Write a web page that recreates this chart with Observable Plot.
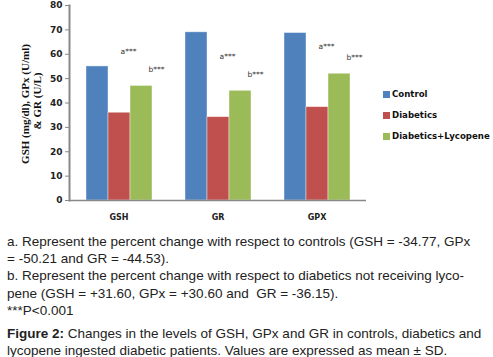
<!DOCTYPE html>
<html>
<head>
<meta charset="utf-8">
<script src="https://cdn.jsdelivr.net/npm/d3@7"></script>
<script src="https://cdn.jsdelivr.net/npm/@observablehq/plot@0.6"></script>
<style>
  html, body { margin: 0; padding: 0; background: #fff; }
  #wrap { position: relative; width: 493px; height: 357px; overflow: hidden; }
  #legend { position: absolute; left: 383px; top: 88px; font-family: "DejaVu Sans", Verdana, sans-serif; font-weight: bold; font-size: 8.6px; color: #111; }
  #legend .row { display: flex; align-items: center; height: 12px; margin-bottom: 9px; }
  #legend .sw { width: 7px; height: 7px; margin-right: 2px; }
  #notes { position: absolute; left: 7px; top: 233px; font-family: "Liberation Sans", Arial, sans-serif; font-size: 13.5px; line-height: 17.2px; color: #222; white-space: nowrap; }
  #notes .gap { height: 6px; }
</style>
</head>
<body>
<div id="wrap">
  <div id="chart"></div>
  <div id="legend"></div>
  <div id="notes">
    a. Represent the percent change with respect to controls (GSH = -34.77, GPx<br>
    = -50.21 and GR = -44.53).<br>
    b. Represent the percent change with respect to diabetics not receiving lyco-<br>
    pene (GSH = +31.60, GPx = +30.60 and&nbsp; GR = -36.15).<br>
    ***P&lt;0.001
    <div class="gap"></div>
    <b>Figure 2:</b> Changes in the levels of GSH, GPx and GR in controls, diabetics and<br>
    lycopene ingested diabetic patients. Values are expressed as mean ± SD.
  </div>
</div>
<script>
const groups = ["GSH", "GR", "GPX"];
const series = ["Control", "Diabetics", "Diabetics+Lycopene"];
const colors = ["#4F81BD", "#C0504D", "#9BBB59"];
const control = [55, 69, 68.7];
const diabetics = [36, 34.2, 38.3];
const lycopene = [47, 45, 52];
const labelA = "a***";
const labelB = "b***";
const yTicks = [0, 10, 20, 30, 40, 50, 60, 70, 80];

const rows = [];
groups.forEach((g, i) => {
  rows.push({group: g, series: series[0], value: control[i]});
  rows.push({group: g, series: series[1], value: diabetics[i]});
  rows.push({group: g, series: series[2], value: lycopene[i]});
});
const aRows = rows.filter(d => d.series === series[1]).map(d => ({...d, label: labelA}));
const bRows = rows.filter(d => d.series === series[2]).map(d => ({...d, label: labelB}));

const chart = Plot.plot({
  width: 493,
  height: 228,
  marginLeft: 69,
  marginRight: 127,
  marginTop: 5,
  marginBottom: 28,
  style: {fontFamily: "DejaVu Sans, Verdana, sans-serif", background: "transparent"},
  fx: {domain: groups, padding: 0, label: null},
  x: {domain: series, paddingInner: 0, paddingOuter: 0.75, axis: null},
  y: {domain: [0, 80], label: null},
  color: {domain: series, range: colors},
  marks: [
    Plot.barY(rows, {fx: "group", x: "series", y: "value", fill: "series", stroke: "#ffffff", strokeOpacity: 0.5, strokeWidth: 0.8}),
    Plot.ruleY([0], {stroke: "#888", strokeWidth: 1.5}),
    Plot.frame({anchor: "left", facetAnchor: "left", stroke: "#888", strokeWidth: 2}),
    Plot.axisY({ticks: yTicks, tickSize: 4, tickPadding: 3, stroke: "#888", fill: "#222", fontWeight: "bold", fontSize: 9, tickFormat: d => d}),
    Plot.axisFx({anchor: "bottom", tickSize: 0, tickPadding: 14, fontWeight: "bold", fontSize: 8, fill: "#222", label: null}),
    Plot.text(aRows, {fx: "group", x: "series", y: "value", text: "label", dy: -61, dx: 9, fontSize: 7.5, fill: "#333"}),
    Plot.text(bRows, {fx: "group", x: "series", y: "value", text: "label", dy: -16, dx: 15, fontSize: 7.5, fill: "#333"})
  ]
});
document.getElementById("chart").appendChild(chart);

// Y axis title (two rotated lines)
const svg = d3.select(chart);
const title = svg.append("g")
  .attr("font-family", "Liberation Serif, Times New Roman, serif")
  .attr("font-weight", "bold")
  .attr("font-size", 11)
  .attr("fill", "#111")
  .attr("text-anchor", "middle");
title.append("text").attr("transform", "translate(29,104) rotate(-90)").text("GSH (mg/dl), GPx (U/ml)");
title.append("text").attr("transform", "translate(41,101) rotate(-90)").text("& GR (U/L)");

// Legend
const legend = d3.select("#legend");
series.forEach((s, i) => {
  const row = legend.append("div").attr("class", "row");
  row.append("div").attr("class", "sw").style("background", colors[i]);
  row.append("span").text(s);
});
</script>
</body>
</html>
